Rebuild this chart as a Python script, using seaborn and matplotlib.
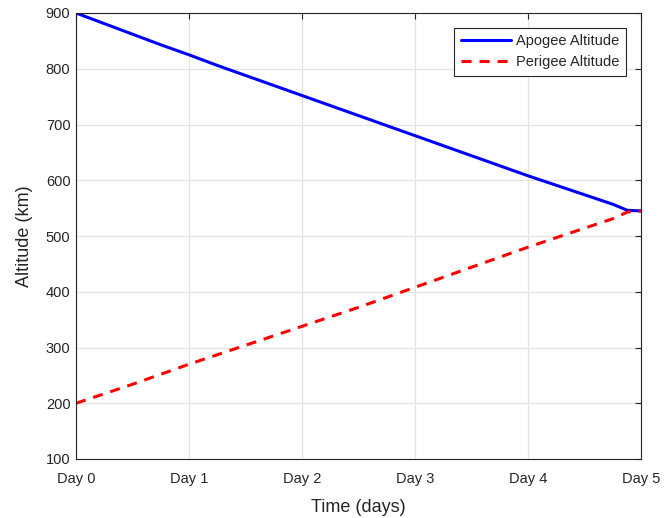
import numpy as np
import pandas as pd
import matplotlib
matplotlib.use("Agg")
import matplotlib.pyplot as plt
import seaborn as sns

# values (quarter-day samples)
days = [0, 0.25, 0.5, 0.75, 1, 1.25, 1.5, 1.75, 2, 2.25, 2.5, 2.75,
        3, 3.25, 3.5, 3.75, 4, 4.25, 4.5, 4.75, 4.88, 5]
apogee = [900, 881, 862, 843, 825, 806, 788, 770, 752, 734, 716, 698,
          680, 662, 644, 626, 608, 591, 574, 557, 546, 545]
perigee = [200, 217, 234, 252, 270, 287, 304, 321, 338, 355, 372, 390,
           408, 426, 444, 462, 480, 497, 514, 531, 543, 545]
tick_days = [0, 1, 2, 3, 4, 5]
tick_labels = ["Day 0", "Day 1", "Day 2", "Day 3", "Day 4", "Day 5"]

df = pd.DataFrame({"t": days, "Apogee Altitude": apogee, "Perigee Altitude": perigee})

sns.set_style("white")
plt.rcParams["font.family"] = ["Liberation Sans", "DejaVu Sans"]

fig = plt.figure(figsize=(6.65, 5.18), dpi=100)
ax = fig.add_axes([76 / 665, 59 / 518, 565 / 665, 446 / 518])

sns.lineplot(data=df, x="t", y="Apogee Altitude", ax=ax, color="#0000ff",
             linewidth=2.2, label="Apogee Altitude")
sns.lineplot(data=df, x="t", y="Perigee Altitude", ax=ax, color="#ff0000",
             linewidth=2.2, label="Perigee Altitude")
ax.lines[1].set_dashes((3.3, 2.6))

ax.set_xlim(0, 5)
ax.set_ylim(100, 900)
ax.set_xticks(tick_days)
ax.set_xticklabels(tick_labels)
ax.set_yticks(range(100, 901, 100))
ax.grid(True, color="#e3e3e3", linewidth=0.9)
ax.tick_params(direction="in", top=True, right=True, length=4, width=0.8,
               labelsize=10.5, colors="#262626")
ax.tick_params(axis="x", pad=9)
ax.tick_params(axis="y", pad=4)
for s in ax.spines.values():
    s.set_color("#262626")
    s.set_linewidth(0.8)

ax.set_xlabel("Time (days)", fontsize=13, color="#262626", labelpad=10)
ax.set_ylabel("Altitude (km)", fontsize=13, color="#262626", labelpad=9)

leg = ax.legend(loc="upper right", fontsize=10.5, frameon=True, fancybox=False,
                edgecolor="#262626", framealpha=1, borderaxespad=1.0,
                handlelength=3.4, borderpad=0.45, labelspacing=0.5,
                handletextpad=0.4)
leg.get_frame().set_linewidth(0.8)

fig.savefig("out.png", dpi=100)
